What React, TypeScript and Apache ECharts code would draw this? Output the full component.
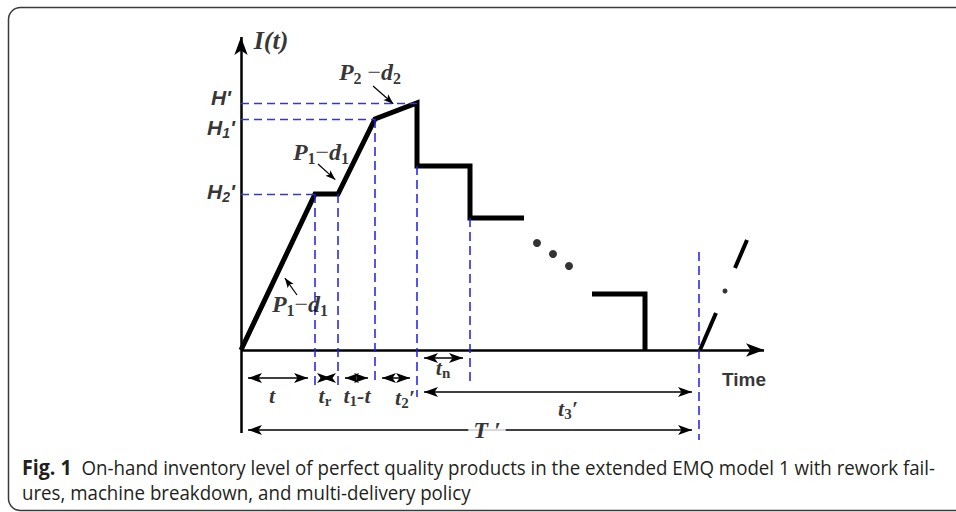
import React, { useEffect, useRef } from "react";
import * as echarts from "echarts";

const SERIF = '"Liberation Serif", "Times New Roman", serif';
const SANS = '"Liberation Sans", Arial, sans-serif';
const CAPTION_FONT = '"Open Sans", "Noto Sans", sans-serif';

// Diagram units: x = time since the start of the cycle, y = inventory level I(t)
const inventoryPath: number[][] = [[0, 0], [74, 156], [97, 156], [134, 231], [176, 247], [176, 184], [229, 184], [229, 132], [283, 132]];
const lastDelivery: number[][] = [[351, 56], [404, 56], [404, 0]];
const nextCycleA: number[][] = [[459, 0], [475, 37]];
const nextCycleB: number[][] = [[494, 82], [506, 110]];
const ellipsisDots: number[][] = [[296, 107], [312, 96], [328, 84]];
const nextCycleDot: number[][] = [[484, 59]];

// Levels H', H1', H2'
const levelValues = [247, 231, 156];
const levelGuideEnds = [176, 134, 74];

// Vertical time guides
const guideTimes = [74, 97, 134, 176, 229, 458];
const guideTops = [156, 156, 231, 184, 132, 98];
const guideBottoms = [-35, -35, -35, -47, -35, -90];

// Dimension spans: t, tr, t1-t, t2', tn, t3', T'
const spanStarts = [0, 74, 97, 134, 176, 176, 0];
const spanEnds = [74, 97, 134, 176, 229, 458, 458];
const spanRows = [-28, -28, -28, -28, -8, -42, -80];

// Axis extents
const yAxisBottom = -83;
const yAxisTop = 322;
const xAxisEnd = 532;

// Pointer arrows to the slopes
const pointerFrom: number[][] = [[132, 264], [77, 186], [56, 55]];
const pointerTo: number[][] = [[156, 243], [98, 167], [41, 76]];

// Text labels
const labelTexts = [
  "{b|I(t)}",
  "{h|H'}",
  "{h|H}{hs|1}{h|'}",
  "{h|H}{hs|2}{h|'}",
  "{p|P}{ps|2}{m| −}{p|d}{ps|2}",
  "{p|P}{ps|1}{m|−}{p|d}{ps|1}",
  "{p|P}{ps|1}{m|−}{p|d}{ps|1}",
  "{t|t}",
  "{t|t}{ts|r}",
  "{t|t}{ts|1}{t|-t}",
  "{t|t}{ts|2}{t|′}",
  "{t|t}{ts|n}",
  "{t|t}{ts|3}{t|′}",
  "{T|T ′}",
  "{time|Time}",
];
const labelX = [30, -20, -20, -20, 129, 80, 59, 31, 84, 116, 164, 202, 327, 246, 503];
const labelY = [310, 253, 223, 159, 278, 198, 46, -45, -45, -45, -47, -17, -58, -80, -29];

const captionLine1 = "On-hand inventory level of perfect quality products in the extended EMQ model 1 with rework fail-";
const captionLine2 = "ures, machine breakdown, and multi-delivery policy";

function shorten(p: number[], q: number[], d: number): number[] {
  const dx = q[0] - p[0];
  const dy = q[1] - p[1];
  const len = Math.sqrt(dx * dx + dy * dy) || 1;
  return [q[0] - (dx / len) * d, q[1] - (dy / len) * d];
}

export default function App() {
  const ref = useRef<HTMLDivElement>(null);

  useEffect(() => {
    if (!ref.current) return;
    const chart = echarts.init(ref.current, undefined, { renderer: "svg" });

    const marks: any[] = [];
    const black = "#000";
    // axes
    const axisArrow = [10, 18];
    marks.push([
      { coord: [0, yAxisBottom], symbol: "none", lineStyle: { color: black, width: 2.5, type: "solid" } },
      { coord: [0, yAxisTop - axisArrow[1] / 2], symbol: "arrow", symbolSize: axisArrow },
    ]);
    marks.push([
      { coord: [0, 0], symbol: "none", lineStyle: { color: black, width: 2.5, type: "solid" } },
      { coord: [xAxisEnd - axisArrow[1] / 2, 0], symbol: "arrow", symbolSize: axisArrow },
    ]);
    // level guides
    levelValues.forEach((v, i) => {
      marks.push([
        { coord: [0, v], symbol: "none", lineStyle: { color: "#3838b8", width: 1.4, type: [8, 5] } },
        { coord: [levelGuideEnds[i], v], symbol: "none" },
      ]);
    });
    // time guides
    guideTimes.forEach((t, i) => {
      marks.push([
        { coord: [t, guideTops[i]], symbol: "none", lineStyle: { color: "#1c1cf0", width: 1.5, type: [9, 5] } },
        { coord: [t, guideBottoms[i]], symbol: "none" },
      ]);
    });
    // dimension spans
    const dimArrow = [7.5, 14];
    spanStarts.forEach((s, i) => {
      const e = spanEnds[i];
      const y = spanRows[i];
      marks.push([
        { coord: [s + dimArrow[1] / 2, y], symbol: "arrow", symbolSize: dimArrow, lineStyle: { color: black, width: 1.5, type: "solid" } },
        { coord: [e - dimArrow[1] / 2, y], symbol: "arrow", symbolSize: dimArrow },
      ]);
    });
    // pointers
    const ptrArrow = [5.5, 10];
    pointerFrom.forEach((p, i) => {
      const q = pointerTo[i];
      marks.push([
        { coord: p, symbol: "none", lineStyle: { color: black, width: 1.2, type: "solid" } },
        { coord: shorten(p, q, ptrArrow[1] / 2), symbol: "arrow", symbolSize: ptrArrow },
      ]);
    });

    const thick = { color: black, width: 5, join: "miter", cap: "butt" };

    const option: any = {
      animation: false,
      grid: { left: 0, right: 0, top: 0, bottom: 0 },
      xAxis: { type: "value", min: -241, max: 715, show: false },
      yAxis: { type: "value", min: -162, max: 350, show: false },
      series: [
        {
          type: "line",
          data: inventoryPath,
          showSymbol: false,
          symbol: "none",
          lineStyle: thick,
          silent: true,
          z: 3,
          markLine: {
            silent: true,
            animation: false,
            symbol: ["none", "none"],
            label: { show: false },
            emphasis: { disabled: true },
            data: marks,
          },
        },
        { type: "line", data: lastDelivery, symbol: "none", lineStyle: thick, silent: true, z: 3 },
        { type: "line", data: nextCycleA, symbol: "none", lineStyle: { ...thick, width: 4 }, silent: true, z: 3 },
        { type: "line", data: nextCycleB, symbol: "none", lineStyle: { ...thick, width: 4 }, silent: true, z: 3 },
        { type: "scatter", data: ellipsisDots, symbolSize: 8, itemStyle: { color: black }, silent: true },
        { type: "scatter", data: nextCycleDot, symbolSize: 5, itemStyle: { color: black }, silent: true },
        {
          type: "scatter",
          z: 10,
          symbolSize: 0,
          silent: true,
          data: labelTexts.map((txt, i) => ({
            value: [labelX[i], labelY[i]],
            label: { formatter: txt },
          })),
          label: {
            show: true,
            position: "inside",
            align: "center",
            verticalAlign: "middle",
            color: black,
            rich: {
              b: { fontFamily: SERIF, fontStyle: "italic", fontWeight: "bold", fontSize: 26, color: black },
              h: { fontFamily: SANS, fontStyle: "italic", fontWeight: "bold", fontSize: 21, color: black },
              hs: { fontFamily: SANS, fontStyle: "italic", fontWeight: "bold", fontSize: 14, color: black, padding: [11, 0, 0, 0] },
              p: { fontFamily: SERIF, fontStyle: "italic", fontWeight: "bold", fontSize: 24, color: black },
              ps: { fontFamily: SERIF, fontWeight: "bold", fontSize: 16, color: black, padding: [12, 0, 0, 0] },
              m: { fontFamily: SERIF, fontSize: 24, color: black },
              t: { fontFamily: SERIF, fontStyle: "italic", fontWeight: "bold", fontSize: 22, color: black },
              ts: { fontFamily: SERIF, fontWeight: "bold", fontSize: 15, color: black, padding: [11, 0, 0, 0] },
              T: { fontFamily: SERIF, fontStyle: "italic", fontWeight: "bold", fontSize: 24, color: black, backgroundColor: "#fff", padding: [0, 5, 0, 5] },
              time: { fontFamily: SANS, fontWeight: "bold", fontSize: 19, color: black },
            },
          },
        },
      ],
      graphic: [
        {
          type: "rect",
          silent: true,
          shape: { x: 8.5, y: 7.5, width: 1000, height: 503, r: 12 },
          style: { fill: "none", stroke: "#3a3a3a", lineWidth: 1.5 },
        },
        {
          type: "text",
          x: 22,
          y: 467,
          scaleX: 0.935,
          silent: true,
          style: {
            text: "{b|Fig. 1}  " + captionLine1,
            fontFamily: CAPTION_FONT,
            fontSize: 20,
            fill: "#231f20",
            verticalAlign: "middle",
            rich: { b: { fontFamily: CAPTION_FONT, fontSize: 21, fontWeight: "bold", fill: "#231f20" } },
          },
        },
        {
          type: "text",
          x: 22,
          y: 492,
          scaleX: 0.935,
          silent: true,
          style: {
            text: captionLine2,
            fontFamily: CAPTION_FONT,
            fontSize: 20,
            fill: "#231f20",
            verticalAlign: "middle",
          },
        },
      ],
    };

    chart.setOption(option);
    return () => chart.dispose();
  }, []);

  return (
    <div
      ref={ref}
      style={{ position: "fixed", left: 0, top: 0, width: 956, height: 512, background: "#fff" }}
    />
  );
}
